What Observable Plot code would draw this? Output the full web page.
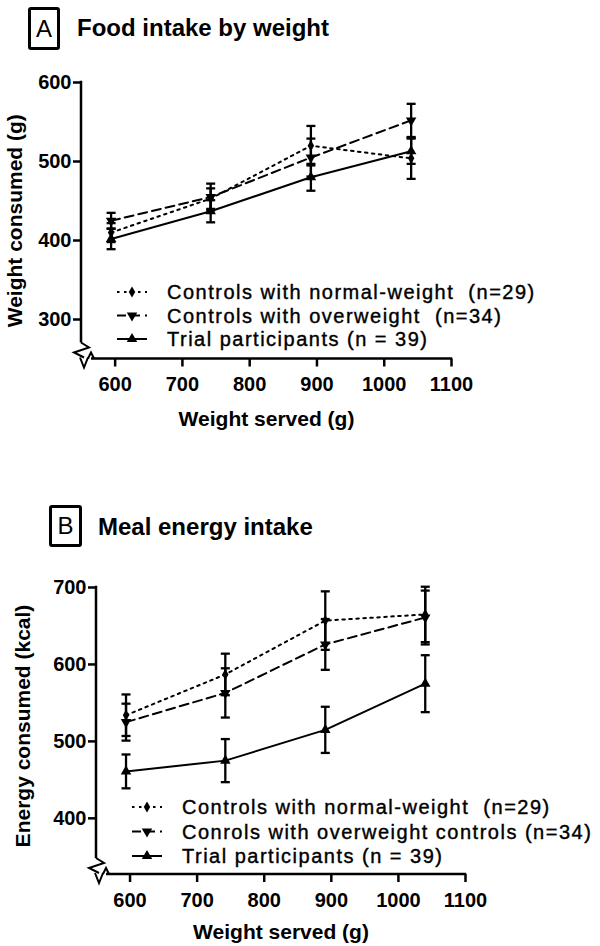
<!DOCTYPE html>
<html><head><meta charset="utf-8">
<script src="https://cdn.jsdelivr.net/npm/d3@7"></script>
<script src="https://cdn.jsdelivr.net/npm/@observablehq/plot@0.6"></script>
<style>
body{margin:0;background:#fff;font-family:"Liberation Sans",Arial,sans-serif;}
#page{position:relative;width:600px;height:946px;overflow:hidden;background:#fff}
.box{position:absolute;border:3px solid #000;border-radius:3px;box-sizing:border-box;display:flex;align-items:center;justify-content:center;font-size:24px;line-height:1}
.title{position:absolute;font-weight:bold;font-size:24px;line-height:1;white-space:nowrap}
.panel{position:absolute;left:0}
</style></head><body><div id="page"></div>
<script>
// ---------- data ----------
const served = [594, 742, 891, 1040];
const xTicks = [600, 700, 800, 900, 1000, 1100];
const xDomain = [550, 1100];
const yTicksA = [300, 400, 500, 600];
const yDomainA = [250, 600];
const yTicksB = [400, 500, 600, 700];
const yDomainB = [327, 700];

const seriesKeys = ["normal", "overweight", "trial"];
const legendA = ["Controls with normal-weight  (n=29)", "Controls with overweight  (n=34)", "Trial participants (n = 39)"];
const legendB = ["Controls with normal-weight  (n=29)", "Conrols with overweight controls (n=34)", "Trial participants (n = 39)"];

const normalA = [410, 453, 520, 504];
const normalAErr = [12, 13, 25, 26];
const overA = [425, 455, 505, 552];
const overAErr = [10, 17, 24, 21];
const trialA = [402, 437, 480, 513];
const trialAErr = [13, 14, 17, 16];

const normalB = [534, 587, 657, 665];
const normalBErr = [27, 27, 38, 36];
const overB = [525, 563, 626, 661];
const overBErr = [24, 32, 33, 35];
const trialB = [461, 475, 515, 575];
const trialBErr = [22, 28, 30, 37];

const titleA = "Food intake by weight", letterA = "A";
const titleB = "Meal energy intake", letterB = "B";
const yLabelA = "Weight consumed (g)";
const yLabelB = "Energy consumed (kcal)";
const xLabel = "Weight served (g)";

// ---------- styles ----------
const seriesStyle = {
  normal: {dash: "2.5,4.5", symbol: "diamond", rotate: 0, r: 3.4},
  overweight: {dash: "9,5", symbol: "triangle", rotate: 180, r: 3.9},
  trial: {dash: null, symbol: "triangle", rotate: 0, r: 3.9}
};
const FONT = '"Liberation Sans", Arial, sans-serif';
const capSymbol = {draw(ctx, size) { const w = Math.sqrt(size / Math.PI); ctx.moveTo(-w, 0); ctx.lineTo(w, 0); }};

function rowsOf(vals, errs) {
  const out = [];
  seriesKeys.forEach((k, s) => vals[s].forEach((v, i) => out.push({series: k, x: served[i], y: v, lo: v - errs[s][i], hi: v + errs[s][i]})));
  return out;
}

const page = document.getElementById("page");

function addTitle(letter, title, box, tx, ty) {
  const b = document.createElement("div");
  b.className = "box";
  Object.assign(b.style, {left: box[0] + "px", top: box[1] + "px", width: box[2] + "px", height: box[3] + "px"});
  b.textContent = letter;
  page.appendChild(b);
  const t = document.createElement("div");
  t.className = "title";
  Object.assign(t.style, {left: tx + "px", top: ty + "px"});
  t.textContent = title;
  page.appendChild(t);
}

function makePanel(cfg) {
  const rows = rowsOf(cfg.vals, cfg.errs);
  const marks = [];
  for (const k of seriesKeys) {
    const st = seriesStyle[k];
    const d = rows.filter(r => r.series === k);
    marks.push(Plot.line(d, {x: "x", y: "y", stroke: "black", strokeWidth: 2, strokeDasharray: st.dash}));
  }
  marks.push(Plot.ruleX(rows, {x: "x", y1: "lo", y2: "hi", stroke: "black", strokeWidth: 2.3}));
  marks.push(Plot.dot(rows, {x: "x", y: "lo", symbol: capSymbol, r: 4.5, stroke: "black", fill: "none", strokeWidth: 2.3}));
  marks.push(Plot.dot(rows, {x: "x", y: "hi", symbol: capSymbol, r: 4.5, stroke: "black", fill: "none", strokeWidth: 2.3}));
  for (const k of seriesKeys) {
    const st = seriesStyle[k];
    const d = rows.filter(r => r.series === k);
    marks.push(Plot.dot(d, {x: "x", y: "y", symbol: st.symbol, rotate: st.rotate, r: st.r, fill: "black", stroke: "none"}));
  }
  marks.push(Plot.axisX({ticks: xTicks, tickSize: 8, tickPadding: 10, tickFormat: d => String(d), fontSize: 20, fontWeight: "bold", strokeWidth: 2.5, label: null}));
  marks.push(Plot.axisY({ticks: cfg.yTicks, tickSize: 8, tickPadding: 2, tickFormat: d => String(d), fontSize: 20, fontWeight: "bold", strokeWidth: 2.5, label: null}));
  marks.push(Plot.text([xLabel], {frameAnchor: "bottom", dy: cfg.xLabelDy, lineAnchor: "middle", textAnchor: "middle", text: d => d, fontSize: 21, fontWeight: "bold"}));
  marks.push(Plot.text([cfg.yLabel], {frameAnchor: "left", dx: cfg.yLabelDx, dy: cfg.yLabelDy, rotate: -90, textAnchor: "middle", lineAnchor: "middle", text: d => d, fontSize: 21, fontWeight: "bold"}));

  const plot = Plot.plot({
    width: 600, height: cfg.height,
    marginLeft: cfg.ml, marginRight: cfg.mr, marginTop: cfg.mt, marginBottom: cfg.mb,
    x: {domain: xDomain},
    y: {domain: cfg.yDomain},
    style: {fontFamily: FONT, fontSize: "20px", fontWeight: "bold", background: "white", color: "black", overflow: "visible"},
    marks
  });

  const svg = d3.select(plot);
  const xs = plot.scale("x"), ys = plot.scale("y");
  const X0 = xs.apply(xDomain[0]), X1 = xs.apply(xDomain[1]);
  const Yb = ys.apply(cfg.yDomain[0]), Yt = ys.apply(cfg.yTicks[cfg.yTicks.length - 1]);
  const g = svg.append("g").attr("fill", "none").attr("stroke", "black").attr("stroke-width", 2.5);
  // axis lines
  g.append("path").attr("d", `M${X0},${Yt - 1.2}V${Yb - 16}`);
  g.append("path").attr("d", `M${X0 + 10},${Yb}H${X1 + 1.2}`);
  // axis breaks
  g.append("path").attr("stroke-width", 2).attr("stroke-linejoin", "miter")
    .attr("d", `M${X0},${Yb - 16}L${X0 + 8},${Yb - 11}L${X0 - 7},${Yb - 6}L${X0 + 3},${Yb - 1}`);
  g.append("path").attr("stroke-width", 2)
    .attr("d", `M${X0 - 1},${Yb - 1}L${X0 + 3},${Yb + 9}L${X0 + 7},${Yb - 1}M${X0 + 7},${Yb}L${X0 + 10},${Yb - 6}L${X0 + 13},${Yb}`);

  // legend
  const lg = svg.append("g").attr("text-anchor", "start");
  cfg.legend.forEach((label, i) => {
    const k = seriesKeys[i], st = seriesStyle[k];
    const yy = cfg.legendY + i * cfg.legendStep;
    const xa = cfg.legendX, xb = xa + 30;
    lg.append("line").attr("x1", xa).attr("x2", xb).attr("y1", yy).attr("y2", yy)
      .attr("stroke", "black").attr("stroke-width", 2).attr("stroke-dasharray", st.dash);
    lg.append("path").attr("d", d3.symbol(st.symbol === "diamond" ? d3.symbolDiamond : d3.symbolTriangle, st.r * st.r * Math.PI)())
      .attr("transform", `translate(${(xa + xb) / 2},${yy}) rotate(${st.rotate})`).attr("fill", "black");
    lg.append("text").attr("x", xb + 20).attr("y", yy).attr("dy", "0.36em")
      .attr("text-anchor", "start")
      .attr("font-size", 20).attr("font-weight", "normal").attr("letter-spacing", "1.5px")
      .attr("fill", "black").attr("stroke", "black").attr("stroke-width", 0.4)
      .style("white-space", "pre").text(label);
  });

  const wrap = document.createElement("div");
  wrap.className = "panel";
  wrap.style.top = cfg.top + "px";
  wrap.appendChild(plot);
  page.appendChild(wrap);
}

addTitle(letterA, titleA, [28, 7, 32, 43], 77, 16);
makePanel({
  top: 60, height: 380, ml: 81, mr: 149, mt: 22, mb: 81.5,
  yDomain: yDomainA, yTicks: yTicksA, yLabel: yLabelA, yLabelDx: -66, yLabelDy: 0, xLabelDy: 60,
  vals: [normalA, overA, trialA], errs: [normalAErr, overAErr, trialAErr],
  legend: legendA, legendX: 117, legendY: 232, legendStep: 23.5
});

addTitle(letterB, titleB, [49, 505, 33, 42], 98, 515);
makePanel({
  top: 560, height: 386, ml: 96, mr: 135, mt: 27, mb: 72,
  yDomain: yDomainB, yTicks: yTicksB, yLabel: yLabelB, yLabelDx: -73, yLabelDy: -5, xLabelDy: 58,
  vals: [normalB, overB, trialB], errs: [normalBErr, overBErr, trialBErr],
  legend: legendB, legendX: 132, legendY: 247, legendStep: 24.5
});
</script></body></html>
